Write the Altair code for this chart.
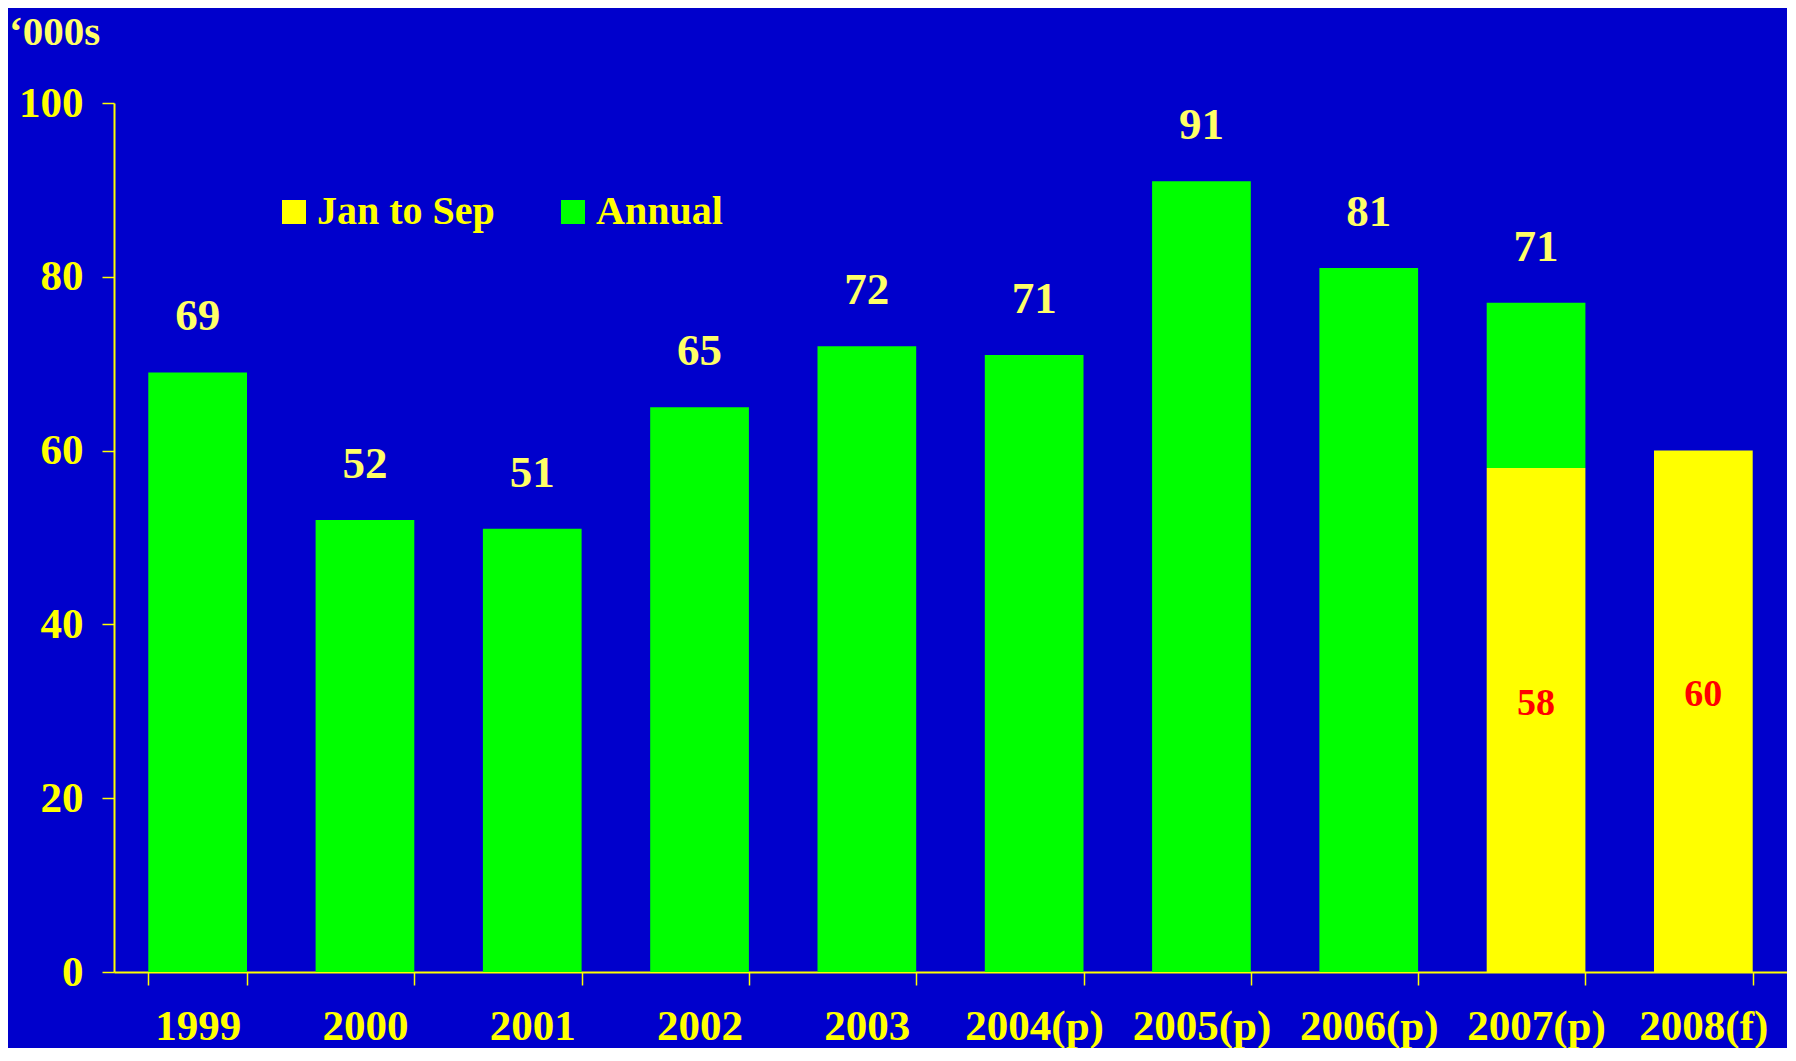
import altair as alt
import pandas as pd

years = ["1999", "2000", "2001", "2002", "2003", "2004(p)", "2005(p)", "2006(p)", "2007(p)", "2008(f)"]
annual_top = [69, 52, 51, 65, 72, 71, 91, 81, 77, None]
jan_sep = [None, None, None, None, None, None, None, None, 58, 60]
top_labels = ["69", "52", "51", "65", "72", "71", "91", "81", "71", ""]
inner_labels = ["", "", "", "", "", "", "", "", "58", "60"]
series_names = ["Jan to Sep", "Annual"]
series_colors = ["#FFFF00", "#00FF00"]
units_label = "\u2018000s"

rows = []
for i, yr in enumerate(years):
    if jan_sep[i] is not None:
        rows.append({"year": yr, "series": "Jan to Sep", "y0": 0, "y1": jan_sep[i]})
    if annual_top[i] is not None:
        base = jan_sep[i] if jan_sep[i] is not None else 0
        rows.append({"year": yr, "series": "Annual", "y0": base, "y1": annual_top[i]})
bars_df = pd.DataFrame(rows)

top_rows = []
for i, yr in enumerate(years):
    if top_labels[i]:
        top = annual_top[i] if annual_top[i] is not None else jan_sep[i]
        top_rows.append({"year": yr, "top": top, "label": top_labels[i]})
top_df = pd.DataFrame(top_rows)

inner_rows = []
for i, yr in enumerate(years):
    if inner_labels[i]:
        inner_rows.append({"year": yr, "value": jan_sep[i], "label": inner_labels[i]})
inner_df = pd.DataFrame(inner_rows)

FONT = "Liberation Serif"
YEL = "#FFFF00"
PALE = "#FFFF66"

xscale = alt.Scale(paddingInner=0.41, paddingOuter=0.205)
yscale = alt.Scale(domain=[0, 100], nice=False)

bars = alt.Chart(bars_df).mark_bar().encode(
    x=alt.X("year:N", sort=years, scale=xscale, title=None,
            axis=alt.Axis(tickBand="extent", labelAngle=0, domainColor=YEL, domainWidth=2,
                          tickColor=YEL, tickWidth=1.5, tickSize=13,
                          labelFont=FONT, labelFontWeight="bold", labelFontSize=43,
                          labelColor=YEL, labelPadding=20, grid=False)),
    y=alt.Y("y1:Q", scale=yscale, title=None,
            axis=alt.Axis(values=[0, 20, 40, 60, 80, 100], domainColor=YEL, domainWidth=2,
                          tickColor=YEL, tickWidth=1.5, tickSize=12,
                          labelFont=FONT, labelFontWeight="bold", labelFontSize=43,
                          labelColor=YEL, labelPadding=19, grid=False)),
    y2="y0:Q",
    color=alt.Color("series:N", scale=alt.Scale(domain=series_names, range=series_colors),
                    legend=alt.Legend(orient="none", legendX=160, legendY=89, direction="horizontal",
                                      title=None, symbolType="square", symbolSize=576,
                                      symbolStrokeWidth=0, symbolOpacity=1,
                                      labelFont=FONT, labelFontWeight="bold", labelFontSize=40,
                                      labelColor=YEL, labelOffset=3, columnPadding=58,
                                      padding=0, labelLimit=400)),
)

top_text = alt.Chart(top_df).mark_text(
    font=FONT, fontWeight="bold", fontSize=45, color=PALE, baseline="alphabetic", dy=-42
).encode(
    x=alt.X("year:N", sort=years, scale=xscale),
    y=alt.Y("top:Q", scale=yscale),
    text="label:N",
)

inner_text = alt.Chart(inner_df).transform_calculate(
    mid="datum.value / 2"
).mark_text(
    font=FONT, fontWeight="bold", fontSize=38, color="#FF0000", baseline="middle", dy=-16
).encode(
    x=alt.X("year:N", sort=years, scale=xscale),
    y=alt.Y("mid:Q", scale=yscale),
    text="label:N",
)

units = alt.Chart(pd.DataFrame({"t": [units_label]})).mark_text(
    font=FONT, fontWeight="bold", fontSize=41, color=PALE, align="left", baseline="alphabetic"
).encode(
    text="t:N",
    x=alt.value(-105),
    y=alt.value(-58),
)

chart = alt.layer(bars, top_text, inner_text, units).properties(
    width=1673, height=869, background="#0000CC",
    padding={"left": 106, "top": 95, "right": 0, "bottom": 76},
    autosize=alt.AutoSizeParams(type="none"),
).configure_view(stroke=None)

chart.save("out.html", embed_options={"renderer": "svg", "actions": False})
